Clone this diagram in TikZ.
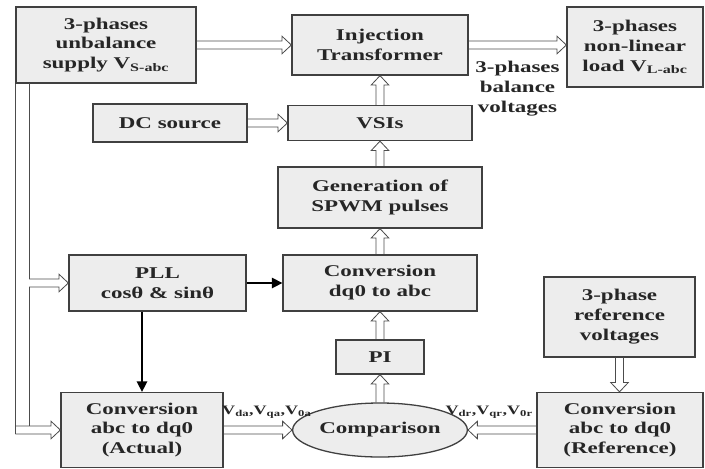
\documentclass[tikz,border=0pt]{standalone}
\usepackage{fontspec}
\setmainfont{Liberation Serif}[FakeStretch=1.4]
\usetikzlibrary{calc,arrows.meta,shapes}

\tikzset{
  box/.style = {draw=black!75, line width=1.1pt, fill=black!7, text=black!85, align=center,
    inner sep=1pt, font=\fontsize{14}{17}\selectfont\bfseries},
  lbl/.style = {text=black!85, align=center, font=\fontsize{14}{17}\selectfont\bfseries},
  sublbl/.style = {text=black!85, inner sep=2pt, font=\fontsize{11}{13}\selectfont\bfseries},
  wire/.style = {draw=black!70, line width=0.7pt},
  % outline of a block arrow from start to target
  hollow/.style = {draw=black!70, line width=0.7pt, line join=miter,
    to path={($(\tikztostart)!3.4pt!90:(\tikztotarget)$)
      -- ($(\tikztotarget)!8pt!(\tikztostart)!3.4pt!90:(\tikztotarget)$)
      -- ($(\tikztotarget)!8pt!(\tikztostart)!7.5pt!90:(\tikztotarget)$)
      -- (\tikztotarget)
      -- ($(\tikztotarget)!8pt!(\tikztostart)!7.5pt!-90:(\tikztotarget)$)
      -- ($(\tikztotarget)!8pt!(\tikztostart)!3.4pt!-90:(\tikztotarget)$)
      -- ($(\tikztostart)!3.4pt!-90:(\tikztotarget)$)}},
  ctrl/.style = {draw=black, line width=1.3pt, -{Triangle[length=9pt,width=9pt]}}
}

\begin{document}
\begin{tikzpicture}[x=0.03cm, y=-0.03cm]
\useasboundingbox (0,0) rectangle (705,468);

% blocks
\node[box, minimum width=5.4cm, minimum height=2.28cm] (supply) at (106,45) {3-phases\\unbalance\\supply V\textsubscript{S-abc}};
\node[box, minimum width=5.28cm, minimum height=1.8cm] (inject) at (380,45) {Injection\\Transformer};
\node[box, minimum width=4.08cm, minimum height=2.4cm] (load) at (635,47) {3-phases\\non-linear\\load V\textsubscript{L-abc}};
\node[box, minimum width=4.62cm, minimum height=1.14cm] (dcsrc) at (170,123) {DC source};
\node[box, minimum width=5.52cm, minimum height=1.05cm] (vsi) at (380,123) {VSIs};
\node[box, minimum width=6.12cm, minimum height=1.83cm] (spwm) at (380,197.5) {Generation of\\SPWM pulses};
\node[box, minimum width=5.82cm, minimum height=1.68cm] (dqabc) at (380,283) {Conversion\\dq0 to abc};
\node[box, minimum width=2.64cm, minimum height=1.02cm] (pi) at (380,357) {PI};
\node[box, ellipse, minimum width=4.65cm, minimum height=1.62cm] (comp) at (380,430) {Comparison};
\node[box, minimum width=5.31cm, minimum height=1.68cm] (pll) at (157.5,283) {PLL\\cosθ \& sinθ};
\node[box, minimum width=4.86cm, minimum height=2.25cm] (actual) at (142,430) {Conversion\\abc to dq0\\(Actual)};
\node[box, minimum width=4.53cm, minimum height=2.4cm] (refv) at (619.5,317) {3-phase\\reference\\voltages};
\node[box, minimum width=4.98cm, minimum height=2.25cm] (convref) at (620,430) {Conversion\\abc to dq0\\(Reference)};

% power path
\draw[hollow] (supply.east) to (inject.west);
\draw[hollow] (inject.east) to (inject.east -| load.west);
\node[lbl, below=10pt] (bal) at ($(inject.east)!0.5!(inject.east -| load.west)$) {3-phases\\balance\\voltages};
\draw[hollow] (dcsrc.east) to (vsi.west);
\draw[hollow] (vsi.north) to (inject.south);
\draw[hollow] (spwm.north) to (vsi.south);
\draw[hollow] (dqabc.north) to (spwm.south);
\draw[hollow] (pi.north) to (dqabc.south);
\draw[hollow] (comp.north) to (pi.south);
\draw[hollow] (refv.south) to (refv.south |- convref.north);
\draw[hollow] (actual.east) to (comp.west);
\node[sublbl, above=8pt, xshift=0.27cm] (vact) at ($(actual.east)!0.5!(comp.west)$) {V\textsubscript{da},V\textsubscript{qa},V\textsubscript{0a}};
\draw[hollow] (convref.west) to (comp.east);
\node[sublbl, above=8pt, xshift=-0.39cm] (vref) at ($(convref.west)!0.5!(comp.east)$) {V\textsubscript{dr},V\textsubscript{qr},V\textsubscript{0r}};

% supply bus
\coordinate (busout) at (supply.south west);
\coordinate (busin) at (29,83);
\draw[hollow] (busin |- pll.west) to (pll.west);
\draw[hollow] (busout |- actual.west) to (actual.west);
\draw[wire] (busout) -- ($(busout |- actual.west)+(0,4)$);
\draw[wire] (busin) -- ($(busin |- pll.west)+(0,-4)$)
  ($(busin |- pll.west)+(0,4)$) -- ($(busin |- actual.west)+(0,-4)$);

% PLL signals
\draw[ctrl] (pll.east) -- (dqabc.west);
\draw[ctrl] (pll.south -| actual.north) -- (actual.north);

\end{tikzpicture}
\end{document}
